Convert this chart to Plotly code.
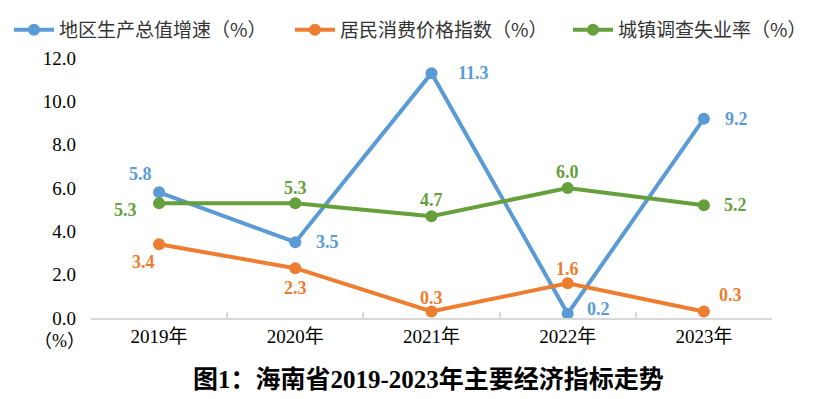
import plotly.graph_objects as go

categories = ["2019年", "2020年", "2021年", "2022年", "2023年"]
gdp = [5.8, 3.5, 11.3, 0.2, 9.2]
cpi = [3.4, 2.3, 0.3, 1.6, 0.3]
unemp = [5.3, 5.3, 4.7, 6.0, 5.2]
names = ["地区生产总值增速（%）", "居民消费价格指数（%）", "城镇调查失业率（%）"]
colors = ["#5B9BD5", "#ED7D31", "#65A03D"]
y_ticks = [0, 2, 4, 6, 8, 10, 12]
y_tick_text = ["0.0", "2.0", "4.0", "6.0", "8.0", "10.0", "12.0"]
title_text = "图1：海南省2019-2023年主要经济指标走势"
unit_text = "（%）"

# label offsets (px) per series per point
offsets = [
    [(-19, 18), (32, 0), (42, 0), (31, 5), (33, 0)],
    [(-16, -18), (0, -20), (0, 14), (0, 14), (27, 17)],
    [(-34, -7), (0, 15), (0, 16), (0, 16), (32, 0)],
]

serif = "Times New Roman, Liberation Serif, Noto Sans CJK SC, serif"
cjk = "Noto Sans CJK SC, sans-serif"

# page offset of 8px (body margin)
L, R, T, B = 83, 63, 50, 89
PW, PH = 827 - L - R, 399 - T - B
legend_box_x = [1, 282, 560]  # figure px of each legend box
legend_y = 1 + (T - 22) / PH

fig = go.Figure()
series = [gdp, cpi, unemp]
legend_ids = ["legend", "legend2", "legend3"]
for s, vals in enumerate(series):
    fig.add_trace(go.Scatter(
        x=categories, y=vals, name=names[s], mode="lines+markers",
        line=dict(color=colors[s], width=4),
        marker=dict(color=colors[s], size=12),
        legend=legend_ids[s],
    ))

annotations = []
for s, vals in enumerate(series):
    for i, v in enumerate(vals):
        dx, dy = offsets[s][i]
        annotations.append(dict(
            x=categories[i], y=v, xref="x", yref="y", text=f"<b>{v:.1f}</b>",
            showarrow=False, xshift=dx, yshift=dy,
            font=dict(family=serif, size=18, color=colors[s]),
        ))

annotations.append(dict(
    x=(59 - 91) / PW, y=-(341 - 318) / PH, xref="paper", yref="paper", text=unit_text,
    showarrow=False, xanchor="center", yanchor="middle",
    font=dict(family=serif, size=18, color="#000000"),
))
annotations.append(dict(
    x=(428 - 91) / PW, y=-(379 - 318) / PH, xref="paper", yref="paper",
    text=f"<b>{title_text}</b>",
    showarrow=False, xanchor="center", yanchor="middle",
    font=dict(family=serif, size=25, color="#000000"),
))

def legend_cfg(bx):
    return dict(
        orientation="h", x=(bx - L) / PW, y=legend_y, xanchor="left", yanchor="middle",
        font=dict(family=cjk, size=19, color="#333333"),
        itemwidth=40, bgcolor="rgba(0,0,0,0)",
    )

fig.update_layout(
    width=827, height=399,
    margin=dict(l=L, r=R, t=T, b=B, autoexpand=False),
    paper_bgcolor="white", plot_bgcolor="white",
    showlegend=True,
    legend=legend_cfg(legend_box_x[0]),
    legend2=legend_cfg(legend_box_x[1]),
    legend3=legend_cfg(legend_box_x[2]),
    annotations=annotations,
    font=dict(family=serif, size=18, color="#000000"),
)

fig.update_xaxes(
    type="category", showgrid=False, showline=True, linecolor="#D9D9D9", linewidth=2,
    ticks="inside", tickson="boundaries", ticklen=6, tickcolor="#D9D9D9", tickwidth=2,
    tickfont=dict(family=serif, size=19, color="#000000"),
    range=[-0.5, 4.5],
)
fig.update_yaxes(
    range=[0, 12], tickvals=y_ticks, ticktext=y_tick_text,
    showgrid=False, showline=False, zeroline=False, ticks="",
    tickfont=dict(family=serif, size=19, color="#000000"), ticklabelstandoff=14,
)

fig.write_html("out.html")
